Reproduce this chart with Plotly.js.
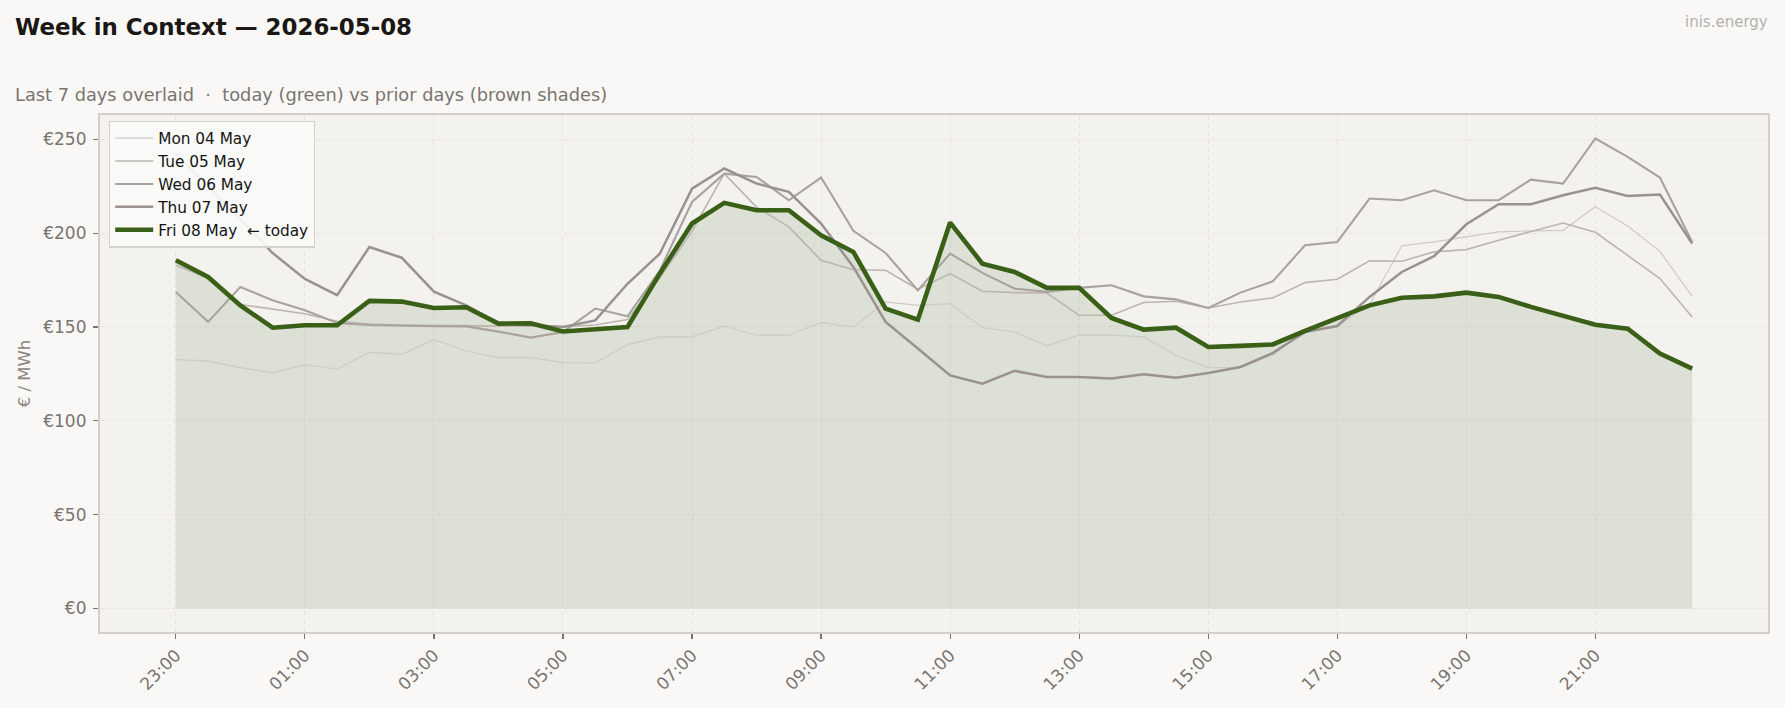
<!DOCTYPE html>
<html>
<head>
<meta charset="utf-8">
<script src="https://cdn.plot.ly/plotly-3.0.1.min.js"></script>
<style>
  html, body { margin: 0; padding: 0; background: #f9f8f6; }
  #chart { width: 1785px; height: 708px; }
</style>
</head>
<body>
<div id="chart"></div>
<script>
// Half-hour settlement slots of the local delivery day (starts 23:00 UTC)
const slots = [
  "23:00","23:30","00:00","00:30","01:00","01:30","02:00","02:30",
  "03:00","03:30","04:00","04:30","05:00","05:30","06:00","06:30",
  "07:00","07:30","08:00","08:30","09:00","09:30","10:00","10:30",
  "11:00","11:30","12:00","12:30","13:00","13:30","14:00","14:30",
  "15:00","15:30","16:00","16:30","17:00","17:30","18:00","18:30",
  "19:00","19:30","20:00","20:30","21:00","21:30","22:00","22:30"
];

// Labelled hours on the x axis
const hourTicks = ["23:00","01:00","03:00","05:00","07:00","09:00","11:00","13:00","15:00","17:00","19:00","21:00"];

// Day-ahead prices, €/MWh
const mon = [132.6,131.9,128.3,125.5,129.9,127.6,136.5,135.4,143.2,137.2,133.7,133.7,
             131.0,130.8,140.6,144.7,144.7,150.5,145.6,145.6,152.3,150.0,163.3,161.5,
             162.4,149.6,147.3,139.9,145.6,145.6,144.7,134.9,128.3,128.3,135.0,148.5,
             150.5,162.0,193.2,195.3,198.0,200.6,201.2,201.5,214.0,203.8,190.3,166.3];
const tue = [182.9,176.0,162.0,159.5,157.0,153.0,151.5,151.0,150.8,150.6,150.5,150.0,
             150.2,151.0,154.0,176.0,201.0,231.7,213.9,203.3,185.5,180.5,180.2,170.1,
             178.4,169.0,168.3,168.1,156.2,156.2,163.0,163.7,160.1,163.3,165.5,173.6,
             175.4,185.2,185.0,190.0,191.2,196.2,200.6,205.4,200.4,188.2,175.8,155.3];
const wed = [168.6,152.7,171.3,164.2,158.9,152.1,151.0,150.6,150.4,150.3,147.5,144.3,
             147.3,159.8,155.7,180.0,216.6,231.7,229.9,217.5,229.6,201.2,189.4,169.5,
             189.1,178.8,170.4,168.7,170.8,172.2,166.3,164.7,160.1,168.3,174.3,193.5,
             195.3,218.4,217.5,222.8,217.5,217.5,228.5,226.4,250.4,240.6,229.6,195.3];
const thu = [242.4,225.0,207.5,189.4,175.6,166.9,192.6,186.9,168.8,161.5,152.0,151.0,
             150.0,153.5,173.0,189.0,223.7,234.4,226.4,222.0,205.1,182.0,152.7,138.5,
             124.2,119.8,126.6,123.4,123.4,122.5,124.8,123.0,125.5,128.7,136.1,147.3,
             150.5,166.0,179.3,187.7,204.7,215.4,215.4,220.2,224.1,219.8,220.5,194.4];
const fri = [185.5,176.6,161.5,149.6,150.9,150.9,163.9,163.5,160.1,160.5,151.8,152.0,
             147.6,149.1,150.0,178.4,205.1,216.1,212.2,212.2,198.8,190.0,159.8,153.9,
             205.6,183.7,179.3,170.8,170.8,154.8,148.6,149.6,139.3,139.9,140.7,147.9,
             154.4,161.5,165.6,166.3,168.3,166.0,160.7,155.9,151.2,149.1,135.8,127.8];

const dayNames = ["Mon 04 May","Tue 05 May","Wed 06 May","Thu 07 May","Fri 08 May  \u2190 today"];
const yTicks = [0, 50, 100, 150, 200, 250];
const yTickText = yTicks.map(v => "\u20ac" + v);

const FONT = "DejaVu Sans, Verdana, sans-serif";
const priorDays = [
  { y: mon, name: dayNames[0], color: "#d0cac5", width: 1.2 },
  { y: tue, name: dayNames[1], color: "#bcb5b0", width: 1.6 },
  { y: wed, name: dayNames[2], color: "#aaa29e", width: 2.1 },
  { y: thu, name: dayNames[3], color: "#9a928e", width: 2.5 }
];

const traces = [];
// soft area under today's curve
traces.push({
  x: slots, y: fri, type: "scatter", mode: "lines",
  line: { width: 0, color: "rgba(58,95,22,0)" },
  fill: "tozeroy", fillcolor: "rgba(58,95,22,0.12)",
  showlegend: false, hoverinfo: "skip"
});
priorDays.forEach(d => traces.push({
  x: slots, y: d.y, type: "scatter", mode: "lines", name: d.name,
  line: { color: d.color, width: d.width }
}));
traces.push({
  x: slots, y: fri, type: "scatter", mode: "lines", name: dayNames[4],
  line: { color: "#3a5f16", width: 4.6 }
});

const W = 1785, H = 708;
const M = { l: 100, r: 17, t: 115, b: 76 };
const pw = W - M.l - M.r, ph = H - M.t - M.b;
const px = v => (v - M.l) / pw;          // figure px -> paper x
const py = v => (H - M.b - v) / ph;      // figure px -> paper y

const gridStyle = { showgrid: true, gridcolor: "#e5e2dd", griddash: "5px,3px", gridwidth: 0.9 };

const layout = {
  width: W, height: H,
  margin: M,
  paper_bgcolor: "#f9f8f6",
  plot_bgcolor: "#f3f2ef",
  font: { family: FONT, color: "#7a7470" },
  title: {
    text: "<b>Week in Context \u2014 2026-05-08</b>",
    font: { family: FONT, size: 22.9, color: "#1a1714" },
    xref: "container", yref: "container",
    x: 15 / W, xanchor: "left",
    y: 1 - 26.5 / H, yanchor: "middle"
  },
  xaxis: Object.assign({
    type: "category",
    range: [-2.35, 49.35],
    tickvals: hourTicks, ticktext: hourTicks,
    tickangle: -45,
    tickfont: { family: FONT, size: 17, color: "#7a7470" },
    ticks: "outside", ticklen: 5, tickwidth: 1.2, tickcolor: "#7a7470",
    showline: true, linecolor: "#d3cfc9", linewidth: 1.6, mirror: true,
    zeroline: false
  }, gridStyle),
  yaxis: Object.assign({
    range: [-12.52, 262.92],
    tickvals: yTicks, ticktext: yTickText,
    tickfont: { family: FONT, size: 17, color: "#7a7470" },
    ticks: "outside", ticklen: 5.5, tickwidth: 1.2, tickcolor: "#7a7470",
    ticklabelstandoff: 3,
    showline: true, linecolor: "#d3cfc9", linewidth: 1.6, mirror: true,
    zeroline: false,
    title: { text: "\u20ac / MWh", font: { family: FONT, size: 16.5, color: "#8a8480" }, standoff: 8 },
    automargin: true
  }, gridStyle),
  legend: {
    x: px(109), y: py(120.5), xanchor: "left", yanchor: "top",
    bgcolor: "rgba(250,249,247,0.9)", bordercolor: "#d5d1cb", borderwidth: 1.2,
    font: { family: FONT, size: 15.3, color: "#141414" },
    itemwidth: 38
  },
  annotations: [
    {
      text: "Last 7 days overlaid  \u00b7  today (green) vs prior days (brown shades)",
      xref: "paper", yref: "paper", x: px(12.5), y: py(94.5),
      xanchor: "left", yanchor: "middle", showarrow: false,
      font: { family: FONT, size: 17.8, color: "#7a7470" }
    },
    {
      text: "inis.energy",
      xref: "paper", yref: "paper", x: px(1770), y: py(22),
      xanchor: "right", yanchor: "middle", showarrow: false,
      font: { family: FONT, size: 15, color: "#b5b1ad" }
    }
  ],
  showlegend: true,
  hovermode: false
};

Plotly.newPlot("chart", traces, layout, { displayModeBar: false, staticPlot: true });
</script>
</body>
</html>
